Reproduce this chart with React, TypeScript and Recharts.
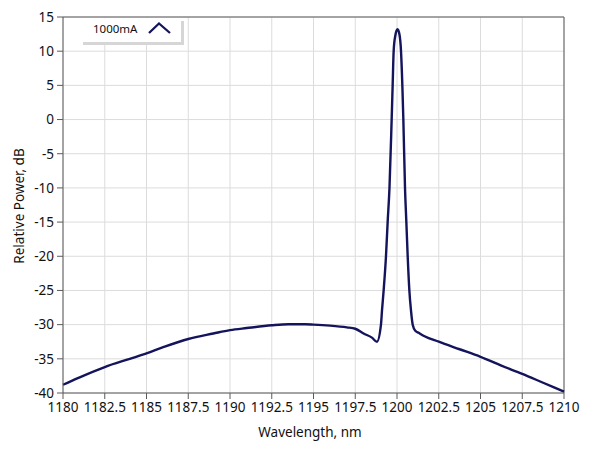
import React from 'react';
import { LineChart, Line, XAxis, YAxis, CartesianGrid, ReferenceLine } from 'recharts';

const wavelength = [1180, 1181, 1182.5, 1184, 1185, 1186, 1187.5, 1189, 1190, 1191, 1192.5, 1193.5, 1194.5, 1195, 1196, 1197, 1197.5, 1198, 1198.5, 1198.8, 1199.04, 1199.1, 1199.2, 1199.34, 1199.44, 1199.55, 1199.68, 1199.74, 1199.8, 1199.9, 1200.03, 1200.15, 1200.24, 1200.32, 1200.38, 1200.48, 1200.56, 1200.64, 1200.74, 1200.84, 1200.94, 1201.1, 1201.3, 1201.65, 1202.5, 1203.75, 1205, 1206.25, 1207.5, 1208.75, 1210];
const power = [-38.8, -37.7, -36.2, -35.0, -34.2, -33.3, -32.1, -31.3, -30.8, -30.5, -30.1, -29.95, -29.95, -30.0, -30.15, -30.4, -30.6, -31.3, -31.9, -32.5, -30, -28, -25, -20, -15, -10, 0, 5, 10, 12.3, 13.2, 12.4, 10, 5, 0, -10, -15, -20, -25, -28, -30, -30.9, -31.2, -31.7, -32.5, -33.6, -34.7, -36.0, -37.2, -38.5, -39.8];

const xTicks = [1180, 1182.5, 1185, 1187.5, 1190, 1192.5, 1195, 1197.5, 1200, 1202.5, 1205, 1207.5, 1210];
const yTicks = [15, 10, 5, 0, -5, -10, -15, -20, -25, -30, -35, -40];

const seriesName = '1000mA';
const xLabel = 'Wavelength, nm';
const yLabel = 'Relative Power, dB';

const data = wavelength.map((w, i) => ({ w, p: power[i] }));

const FONT = '"Noto Sans", "Open Sans", sans-serif';
const LINE = '#14145c';
const AXIS = '#5a5a5a';
const FS = 13.5;

export default function App() {
  return (
    <div style={{ position: 'absolute', left: 0, top: 0, width: 589, height: 456, background: '#fff', fontFamily: FONT }}>
      <LineChart width={589} height={456} data={data} margin={{ top: 17, right: 25, left: 0, bottom: 0 }}>
        <CartesianGrid stroke="#dcdcdc" strokeWidth={1} />
        <XAxis
          dataKey="w"
          type="number"
          domain={[1180, 1210]}
          ticks={xTicks}
          interval={0}
          height={63}
          tickSize={6}
          stroke={AXIS}
          tick={{ fontSize: FS, fill: '#111', fontFamily: FONT }}
          tickMargin={3}
          label={{
            content: () => (
              <text x={310} y={437} textAnchor="middle" fontSize={FS} fill="#111" fontFamily={FONT}>
                {xLabel}
              </text>
            ),
          }}
        />
        <YAxis
          type="number"
          domain={[-40, 15]}
          ticks={yTicks}
          interval={0}
          width={63}
          tickSize={6}
          stroke={AXIS}
          tick={{ fontSize: FS, fill: '#111', fontFamily: FONT }}
          tickMargin={3}
          label={{
            content: () => (
              <text x={24} y={206} textAnchor="middle" fontSize={FS} fill="#111" fontFamily={FONT} transform="rotate(-90 24 206)">
                {yLabel}
              </text>
            ),
          }}
        />
        <ReferenceLine y={15} stroke={AXIS} strokeWidth={1} />
        <ReferenceLine x={1210} stroke={AXIS} strokeWidth={1} />
        <Line
          type="monotone"
          dataKey="p"
          stroke={LINE}
          strokeWidth={2.4}
          dot={false}
          isAnimationActive={false}
        />
      </LineChart>
      <div style={{ position: 'absolute', left: 80, top: 18, width: 101, height: 24, background: '#fff', boxShadow: '3px 3px 0 #d6d6d6' }}>
        <span style={{ position: 'absolute', left: 13, top: 4, fontSize: 11.5, color: '#111', fontFamily: FONT, lineHeight: '14px' }}>
          {seriesName}
        </span>
        <svg style={{ position: 'absolute', left: 66, top: 2 }} width={26} height={16}>
          <polyline points="3,13 13,3.5 24,13" fill="none" stroke={LINE} strokeWidth={2.3} />
        </svg>
      </div>
    </div>
  );
}
